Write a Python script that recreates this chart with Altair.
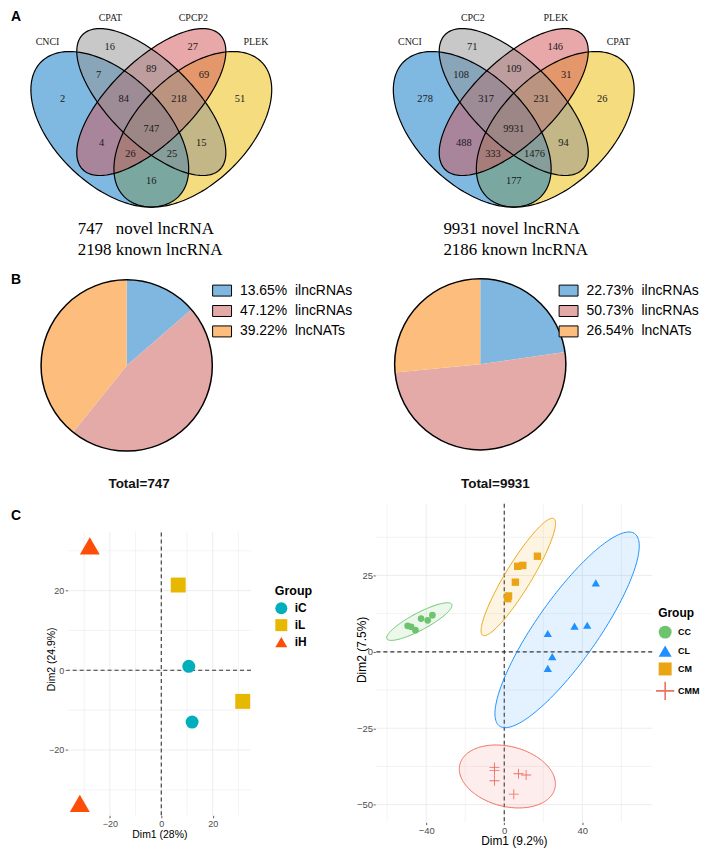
import numpy as np
import pandas as pd
import altair as alt

# ===================== DATA =====================
# Panel A: Venn diagrams (region counts)
venn_left_sets = ["CNCI", "CPAT", "CPCP2", "PLEK"]
venn_right_sets = ["CNCI", "CPC2", "PLEK", "CPAT"]
# region order: s2, s3, s1s2, s2s3, s3s4, s1, s1s2s3, s2s3s4, s4, all, s1s3, s2s4, s1s3s4, s1s2s4, s1s4
venn_left_counts = [16, 27, 7, 89, 69, 2, 84, 218, 51, 747, 4, 15, 26, 25, 16]
venn_right_counts = [71, 146, 108, 109, 31, 278, 317, 231, 26, 9931, 488, 94, 333, 1476, 177]
venn_left_note = ["747\u00a0\u00a0\u00a0novel lncRNA", "2198 known lncRNA"]
venn_right_note = ["9931 novel lncRNA", "2186 known lncRNA"]

# Panel B: pies
pie_types = ["ilncRNAs", "lincRNAs", "lncNATs"]
pie_left_pct = [13.65, 47.12, 39.22]
pie_right_pct = [22.73, 50.73, 26.54]
pie_totals = ["Total=747", "Total=9931"]

# Panel C: PCA (left)
pcaL_group = ["iC", "iC", "iL", "iL", "iH", "iH"]
pcaL_dim1 = [10.7, 12.0, 6.6, 31.7, -27.8, -31.7]
pcaL_dim2 = [1.0, -13.0, 21.4, -7.8, 31.2, -33.4]

# Panel C: PCA (right)
pcaR_group = ["CC"] * 6 + ["CL"] * 6 + ["CM"] * 6 + ["CMM"] * 6
pcaR_dim1 = [-49.5, -47.7, -45.5, -42.6, -39.2, -36.8,
             46.9, 22.3, 36.0, 42.5, 24.6, 22.3,
             17.0, 6.9, 9.5, 5.7, 2.2, 1.8,
             -5.0, -5.0, -5.0, 7.3, 11.2, 4.9]
pcaR_dim2 = [8.5, 8.2, 7.1, 10.9, 10.3, 12.0,
             22.6, 6.0, 8.4, 8.7, -1.6, -5.4,
             31.3, 28.0, 28.3, 22.8, 18.3, 17.4,
             -37.9, -38.9, -42.2, -39.9, -40.3, -46.6]
# group ellipses (centre, two conjugate half-axes, data units)
ell_group = ["CC", "CL", "CM", "CMM"]
ell_cx = [-43.5, 32.2, 7.2, 1.6]
ell_cy = [9.9, 7.2, 24.5, -40.8]
ell_ax = [16.6, 34.6, 18.2, 24.3]
ell_ay = [5.65, 31.5, 19.1, -4.0]
ell_bx = [2.1, 13.0, 5.7, -3.9]
ell_by = [-2.46, -5.8, -2.2, -9.5]

# ===================== STYLE / LAYOUT =====================
SANS = "Liberation Sans"
SERIF = "Liberation Serif"

VENN_ELLIPSES = [(0.35, 0.47, 0.35, 0.20, -45), (0.50, 0.57, 0.35, 0.15, -45),
                 (0.50, 0.57, 0.35, 0.15, 45), (0.65, 0.47, 0.35, 0.20, 45)]
VENN_FILLS = ["#0073C3", "#919191", "#D15155", "#EBB900"]
VENN_DRAW_ORDER = [3, 0, 2, 1]
VENN_REGION_U = [0.35, 0.65, 0.31, 0.50, 0.69, 0.18, 0.40, 0.60, 0.82, 0.50, 0.32, 0.68, 0.425, 0.575, 0.50]
VENN_REGION_V = [0.77, 0.77, 0.67, 0.69, 0.67, 0.58, 0.58, 0.58, 0.58, 0.47, 0.42, 0.42, 0.38, 0.38, 0.28]
VENN_CAT_U = [0.125, 0.352, 0.652, 0.878]
VENN_CAT_V = [0.79, 0.879, 0.879, 0.79]

PIE_COLORS = ["#7FB7E0", "#E4AAA8", "#FDBE7D"]
COL_L = {"iC": "#00AFBB", "iL": "#E7B800", "iH": "#FC4E07"}
SHAPE_L = {"iC": "circle", "iL": "square", "iH": "triangle-up"}
SIZE_L = {"iC": 169, "iL": 225, "iH": 400}
PLUS = "M-1.4,-0.12H1.4V0.12H-1.4Z M-0.12,-1.4H0.12V1.4H-0.12Z"
COL_R = {"CC": "#6EC36E", "CL": "#1E90FF", "CM": "#EBA514", "CMM": "#F06E5F"}
SHAPE_R = {"CC": "circle", "CL": "triangle-up", "CM": "square", "CMM": PLUS}
SIZE_R = {"CC": 45, "CL": 70, "CM": 55, "CMM": 52}
GRID = "#EBEBEB"
TOP_H = 495


def ellipse_points(cx, cy, a, b, ang, n=181):
    t = np.linspace(0, 2 * np.pi, n)
    th = np.deg2rad(ang)
    return (cx + a * np.cos(t) * np.cos(th) - b * np.sin(t) * np.sin(th),
            cy + a * np.cos(t) * np.sin(th) + b * np.sin(t) * np.cos(th))


def venn_panel(sets, counts, xrange):
    xs = alt.Scale(domain=[0, 1], range=xrange, nice=False, zero=False)
    ys = alt.Scale(domain=[0, 1], range=[247.8, -26.2], nice=False, zero=False)
    ex = alt.X("u:Q", scale=xs, axis=None)
    ey = alt.Y("v:Q", scale=ys, axis=None)
    shapes = []
    for k, (cx, cy, a, b, ang) in enumerate(VENN_ELLIPSES):
        u, v = ellipse_points(cx, cy, a, b, ang)
        shapes.append(pd.DataFrame({"u": u, "v": v, "i": np.arange(len(u)), "s": sets[k]}))
    layers = []
    for k in VENN_DRAW_ORDER:
        layers.append(alt.Chart(shapes[k]).mark_line(fill=VENN_FILLS[k], fillOpacity=0.5, strokeOpacity=0)
                      .encode(x=ex, y=ey, order="i:Q"))
    layers.append(alt.Chart(pd.concat(shapes)).mark_line(color="black", strokeWidth=1.2)
                  .encode(x=ex, y=ey, detail="s:N", order="i:Q"))
    reg = pd.DataFrame({"u": VENN_REGION_U, "v": VENN_REGION_V, "n": [str(c) for c in counts]})
    layers.append(alt.Chart(reg).mark_text(font=SERIF, fontSize=10.5, color="#1a1a1a")
                  .encode(x=ex, y=ey, text="n:N"))
    cat = pd.DataFrame({"u": VENN_CAT_U, "v": VENN_CAT_V, "s": sets})
    layers.append(alt.Chart(cat).mark_text(font=SERIF, fontSize=10, color="#1a1a1a")
                  .encode(x=ex, y=ey, text="s:N"))
    return alt.layer(*layers)


def pie_panel(pcts, cx, cy, legx):
    labs = [f"{p:.2f}%\u00a0 {t}" for p, t in zip(pcts, pie_types)]
    df = pd.DataFrame({"lab": labs, "pct": pcts, "o": [0, 1, 2]})
    leg = alt.Legend(orient="none", legendX=legx, legendY=271, title=None, padding=0,
                     symbolType="M-1,-0.58H1V0.58H-1Z", symbolSize=361, symbolStrokeColor="black",
                     symbolStrokeWidth=1, symbolOpacity=1, labelFont=SANS, labelFontSize=14,
                     labelColor="black", labelOffset=8, rowPadding=2.5)
    arcs = alt.Chart(df).mark_arc(radius=86).encode(
        theta=alt.Theta("pct:Q", stack=True),
        order=alt.Order("o:Q"),
        color=alt.Color("lab:N", scale=alt.Scale(domain=labs, range=PIE_COLORS), legend=leg),
        x=alt.value(cx), y=alt.value(cy))
    ring = alt.Chart(pd.DataFrame({"z": [0]})).mark_arc(
        radius=86, theta=0, theta2=6.2832, fillOpacity=0, stroke="black", strokeWidth=1.5
    ).encode(x=alt.value(cx), y=alt.value(cy))
    return [arcs, ring]


# ---- top chart: panels A and B ----
vennL = venn_panel(venn_left_sets, venn_left_counts, [1.93, 279.93])
vennR = venn_panel(venn_right_sets, venn_right_counts, [365.93, 643.93])
pieL = pie_panel(pie_left_pct, 116.2, 356.2, 202)
pieR = pie_panel(pie_right_pct, 471.3, 355.0, 550)

letters = pd.DataFrame({"t": ["A", "B", "C"], "px": [0, 0, 0], "py": [6, 270, 507]})
letter_layer = alt.Chart(letters).mark_text(align="left", font=SANS, fontSize=14, fontWeight="bold",
                                           color="black").encode(
    x=alt.X("px:Q", scale=None, axis=None), y=alt.Y("py:Q", scale=None, axis=None), text="t:N")
totals = pd.DataFrame({"t": pie_totals, "px": [128.7, 486.5], "py": [475.5, 475.5]})
total_layer = alt.Chart(totals).mark_text(align="center", font=SANS, fontSize=13.5, fontWeight="bold",
                                          color="#111111").encode(
    x=alt.X("px:Q", scale=None, axis=None), y=alt.Y("py:Q", scale=None, axis=None), text="t:N")
notes = pd.DataFrame({"t": venn_left_note + venn_right_note,
                      "px": [67, 67, 434.3, 434.3], "py": [219, 240, 219, 240]})
note_layer = alt.Chart(notes).mark_text(align="left", font=SERIF, fontSize=17, color="black").encode(
    x=alt.X("px:Q", scale=None, axis=None), y=alt.Y("py:Q", scale=None, axis=None), text="t:N")

top = alt.layer(vennL, vennR, *pieL, *pieR, letter_layer, total_layer, note_layer).properties(
    width=693, height=TOP_H
).resolve_scale(x="independent", y="independent", color="independent", theta="independent")


# ---- panel C ----
def mk_axis(vals, title, lab_size, title_size, **kw):
    return alt.Axis(values=vals, grid=False, domain=False, ticks=True, tickColor="#333333", tickWidth=0.8,
                    labelColor="#4D4D4D", labelFont=SANS, labelFontSize=lab_size,
                    title=title, titleFont=SANS, titleFontSize=title_size, titleFontWeight="normal",
                    titleColor="#000000", titleBaseline="middle", **kw)


def scatter(df, xs, ys, ax, ay, ydom, xmaj, xmin, ymaj, ymin, colmap, shapemap, legend, ellipses, dash_span):
    X = lambda f: alt.X(f, type="quantitative", scale=xs, axis=ax)
    Y = lambda f: alt.Y(f, type="quantitative", scale=ys, axis=ay)
    layers = []
    for vals, w in [(xmin, 0.6), (xmaj, 0.9)]:
        d = pd.DataFrame({"v": vals})
        if dash_span:
            layers.append(alt.Chart(d).mark_rule(color=GRID, strokeWidth=w).encode(
                x=X("v"), y=alt.YDatum(ydom[0], type="quantitative", scale=ys, axis=ay),
                y2=alt.Y2Datum(ydom[1])))
        else:
            layers.append(alt.Chart(d).mark_rule(color=GRID, strokeWidth=w).encode(x=X("v")))
    for vals, w in [(ymin, 0.6), (ymaj, 0.9)]:
        d = pd.DataFrame({"v": vals})
        layers.append(alt.Chart(d).mark_rule(color=GRID, strokeWidth=w).encode(y=Y("v")))
    zero = pd.DataFrame({"v": [0]})
    if dash_span:
        layers.append(alt.Chart(zero).mark_rule(color="#333333", strokeWidth=1.1, strokeDash=[4, 3]).encode(
            x=X("v"), y=alt.YDatum(ydom[0], type="quantitative", scale=ys, axis=ay),
            y2=alt.Y2Datum(ydom[1])))
    else:
        layers.append(alt.Chart(zero).mark_rule(color="#333333", strokeWidth=1.1, strokeDash=[4, 3])
                      .encode(x=X("v")))
    layers.append(alt.Chart(zero).mark_rule(color="#333333", strokeWidth=1.1, strokeDash=[4, 3])
                  .encode(y=Y("v")))
    layers.extend(ellipses(X, Y))
    doms = list(colmap.keys())
    layers.append(alt.Chart(df).mark_point(filled=True, opacity=1, strokeWidth=0).encode(
        x=X("d1"), y=Y("d2"),
        color=alt.Color("grp:N", scale=alt.Scale(domain=doms, range=[colmap[g] for g in doms]), legend=legend),
        shape=alt.Shape("grp:N", scale=alt.Scale(domain=doms, range=[shapemap[g] for g in doms]), legend=legend),
        size=alt.Size("sz:Q", scale=None)))
    return alt.layer(*layers)


# left PCA
dfL = pd.DataFrame({"d1": pcaL_dim1, "d2": pcaL_dim2, "grp": pcaL_group})
dfL["sz"] = dfL["grp"].map(SIZE_L)
ydomL = [-36.4, 34.75]
xsL = alt.Scale(domain=[-36.4, 34.9], nice=False, zero=False)
ysL = alt.Scale(domain=ydomL, range=[313, 28.3], nice=False, zero=False)
axXL = mk_axis([-20, 0, 20], "Dim1 (28%)", 9, 10.5, tickSize=2.5, labelPadding=1.5, offset=-7, titleY=19.7)
axYL = mk_axis([-20, 0, 20], "Dim2 (24.9%)", 9, 10.5, tickSize=2.5, labelPadding=1.5, titleX=-16, titleY=155.8)
legL = alt.Legend(title="Group", orient="none", legendX=208, legendY=82, padding=0,
                  titleFont=SANS, titleFontSize=12.5, titleFontWeight="bold", titleColor="black", titlePadding=4,
                  labelFont=SANS, labelFontSize=12, labelFontWeight="bold", labelColor="black",
                  symbolSize=145, symbolOpacity=1, symbolStrokeWidth=0, rowPadding=4, labelOffset=7)
left = scatter(dfL, xsL, ysL, axXL, axYL, ydomL, [-20, 0, 20], [-30, -10, 10, 30], [-20, 0, 20],
               [-30, -10, 10, 30], COL_L, SHAPE_L, legL, lambda X, Y: [], True).properties(width=184, height=320)

# right PCA
dfR = pd.DataFrame({"d1": pcaR_dim1, "d2": pcaR_dim2, "grp": pcaR_group})
dfR["sz"] = dfR["grp"].map(SIZE_R)
xsR = alt.Scale(domain=[-66.0, 75.8], nice=False, zero=False)
ysR = alt.Scale(domain=[-55.8, 48.5], nice=False, zero=False)
axXR = mk_axis([-40, 0, 40], "Dim1 (9.2%)", 9.5, 12, tickSize=2.3, labelPadding=1, titleY=18.8)
axYR = mk_axis([-50, -25, 0, 25], "Dim2 (7.5%)", 9.5, 12, tickSize=2.3, labelPadding=0.5, titleX=-14, titleY=146.3)
legR = alt.Legend(title="Group", orient="none", legendX=284, legendY=105, padding=0,
                  titleFont=SANS, titleFontSize=12, titleFontWeight="bold", titleColor="black", titlePadding=5,
                  labelFont=SANS, labelFontSize=9, labelFontWeight="bold", labelColor="black",
                  symbolSize=170, symbolOpacity=1, symbolStrokeWidth=0, rowPadding=5, labelOffset=6)


def right_ellipses(X, Y):
    out = []
    t = np.linspace(0, 2 * np.pi, 181)
    for g, cx, cy, a1, a2, b1, b2 in zip(ell_group, ell_cx, ell_cy, ell_ax, ell_ay, ell_bx, ell_by):
        d = pd.DataFrame({"d1": cx + a1 * np.cos(t) + b1 * np.sin(t),
                          "d2": cy + a2 * np.cos(t) + b2 * np.sin(t), "i": np.arange(len(t))})
        out.append(alt.Chart(d).mark_line(fill=COL_R[g], fillOpacity=0.12, stroke=COL_R[g], strokeWidth=1)
                   .encode(x=X("d1"), y=Y("d2"), order="i:Q"))
    return out


right = scatter(dfR, xsR, ysR, axXR, axYR, None, [-40, 0, 40], [-60, -20, 20, 60], [-50, -25, 0, 25],
                [-37.5, -12.5, 12.5, 37.5], COL_R, SHAPE_R, legR, right_ellipses, False).properties(
    width=278, height=320)


def spacer(w):
    return alt.Chart(pd.DataFrame({"z": [0]})).mark_point(opacity=0).encode(
        x=alt.value(0), y=alt.value(0)).properties(width=w, height=1)


rowC = alt.hconcat(spacer(57), left, spacer(125), right, spacing=0, bounds="flush").resolve_scale(
    x="independent", y="independent", color="independent", shape="independent"
).resolve_legend(color="independent", shape="independent")

chart = alt.vconcat(top, rowC, spacing=0, bounds="flush", padding=0, background="white").resolve_scale(
    x="independent", y="independent", color="independent", shape="independent", theta="independent"
).resolve_legend(color="independent", shape="independent").configure_view(stroke=None)

chart.save("out.html", embed_options={"renderer": "svg", "actions": False})
